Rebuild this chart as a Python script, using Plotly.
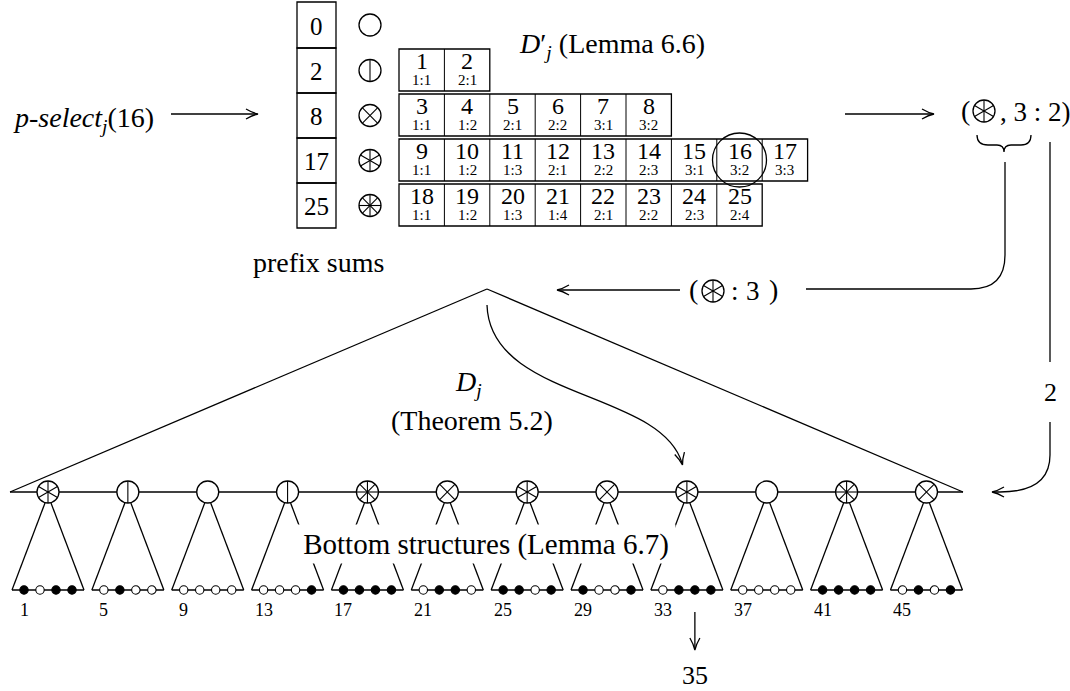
import math
import plotly.graph_objects as go

# ---------------- data ----------------
prefix_sums = [0, 2, 8, 17, 25]          # prefix-sum column
symbol_lines = [0, 1, 2, 3, 4]           # number of lines in each symbol of the column
table_labels = [
    ["1:1", "2:1"],
    ["1:1", "1:2", "2:1", "2:2", "3:1", "3:2"],
    ["1:1", "1:2", "1:3", "2:1", "2:2", "2:3", "3:1", "3:2", "3:3"],
    ["1:1", "1:2", "1:3", "1:4", "2:1", "2:2", "2:3", "2:4"],
]
selected_rank = 16
node_lines = [3, 1, 0, 1, 4, 2, 3, 2, 3, 0, 4, 2]
leaf_bits = ["1011", "0100", "0000", "0001", "1111", "0110",
             "1101", "1001", "0111", "0000", "1111", "0101"]
leaf_labels = [1, 5, 9, 13, 17, 21, 25, 29, 33, 37, 41, 45]
result_symbol = 3
result_pair = ("3", "2")
answer = 35

# ---------------- layout constants ----------------
W, H = 1070, 691
FONT = "Liberation Serif"
LW = 1.3
BLACK = "black"

fig = go.Figure()
fig.update_layout(
    width=W, height=H, margin=dict(l=0, r=0, t=0, b=0),
    paper_bgcolor="white", plot_bgcolor="white", showlegend=False,
    xaxis=dict(range=[0, W], visible=False, fixedrange=True),
    yaxis=dict(range=[H, 0], visible=False, fixedrange=True),
)

def line(x0, y0, x1, y1, w=LW):
    fig.add_shape(type="line", x0=x0, y0=y0, x1=x1, y1=y1,
                  line=dict(color=BLACK, width=w))

def path(p, w=LW):
    fig.add_shape(type="path", path=p, line=dict(color=BLACK, width=w))

def rect(x0, y0, x1, y1, w=LW):
    fig.add_shape(type="rect", x0=x0, y0=y0, x1=x1, y1=y1,
                  line=dict(color=BLACK, width=w), fillcolor="rgba(0,0,0,0)")

def circle(cx, cy, r, fill="white", w=LW):
    fig.add_shape(type="circle", x0=cx - r, y0=cy - r, x1=cx + r, y1=cy + r,
                  line=dict(color=BLACK, width=w), fillcolor=fill)

SPOKES = {0: [], 1: [90], 2: [45, 135], 3: [30, 90, 150], 4: [0, 45, 90, 135]}

def symbol(cx, cy, n, r=11):
    circle(cx, cy, r)
    for a in SPOKES[n]:
        dx, dy = r * math.cos(math.radians(a)), r * math.sin(math.radians(a))
        line(cx - dx, cy - dy, cx + dx, cy + dy, w=1.1)

def text(x, y, s, size=28, xanchor="center", **kw):
    fig.add_annotation(x=x, y=y, text=s, showarrow=False, xanchor=xanchor,
                       yanchor="middle", font=dict(family=FONT, size=size, color=BLACK), **kw)

def arrowhead(tx, ty, dx, dy, L=12, w=5):
    n = math.hypot(dx, dy)
    ux, uy = dx / n, dy / n
    px, py = -uy, ux
    b1 = (tx - L * ux + w * px, ty - L * uy + w * py)
    b2 = (tx - L * ux - w * px, ty - L * uy - w * py)
    c1 = (tx - 0.45 * L * ux + 0.22 * w * px, ty - 0.45 * L * uy + 0.22 * w * py)
    c2 = (tx - 0.45 * L * ux - 0.22 * w * px, ty - 0.45 * L * uy - 0.22 * w * py)
    path(f"M {b1[0]:.2f} {b1[1]:.2f} Q {c1[0]:.2f} {c1[1]:.2f} {tx:.2f} {ty:.2f} "
         f"Q {c2[0]:.2f} {c2[1]:.2f} {b2[0]:.2f} {b2[1]:.2f}")

# ---------------- prefix sums column + symbols ----------------
PX0, PX1 = 297, 336
row_edges = [2, 48, 93, 138, 183, 228]
SYM_X = 370
for i, v in enumerate(prefix_sums):
    y0, y1 = row_edges[i], row_edges[i + 1]
    rect(PX0, y0, PX1, y1)
    text((PX0 + PX1) / 2, (y0 + y1) / 2 + 1, str(v), size=25)
    symbol(SYM_X, (y0 + y1) / 2, symbol_lines[i])
text(318, 262, "prefix sums", size=28)

# ---------------- table D'_j ----------------
TX0, CW = 399, 45.4
sel_pos = None
for k, labels in enumerate(table_labels):
    top = row_edges[k + 1] + 1
    bot = row_edges[k + 2] - 2
    start = prefix_sums[k] + 1
    rect(TX0, top, TX0 + CW * len(labels), bot)
    for j, lab in enumerate(labels):
        x0 = TX0 + CW * j
        if j > 0:
            line(x0, top, x0, bot, w=1.0)
        num = start + j
        text(x0 + CW / 2, top + 12, str(num), size=24)
        text(x0 + CW / 2, top + 31, lab, size=15)
        if num == selected_rank:
            sel_pos = (x0 + CW / 2, (top + bot) / 2)
circle(sel_pos[0], sel_pos[1], 27, fill="rgba(0,0,0,0)")
text(612, 45, "<i>D</i>′<sub><i>j</i></sub> (Lemma 6.6)", size=28)

# ---------------- query arrow ----------------
text(83, 119, "<i>p-select</i><sub><i>j</i></sub>(16)", size=28)
line(171, 114, 257, 114)
arrowhead(258, 114, 1, 0)

# ---------------- result (symbol, 3:2) ----------------
line(845, 114, 933, 114)
arrowhead(934, 114, 1, 0)
text(965, 110, "(", size=28)
symbol(984, 111, result_symbol)
text(998, 112, f", {result_pair[0]} : {result_pair[1]})", size=27, xanchor="left")
# brace under (symbol, )
path("M 977 135 Q 977 145 988 145 L 997 145 Q 1004 145 1004 152 "
     "Q 1004 145 1011 145 L 1021 145 Q 1031 145 1031 135")
# path from brace down and to the left
path("M 1005 162 L 1005 255 Q 1005 289 971 289 L 806 289")
text(693, 289, "(", size=28)
symbol(713, 291, result_symbol)
text(735, 291, ":", size=27)
text(753, 291, result_pair[0], size=27)
text(773, 289, ")", size=28)
line(680, 290, 558, 290)
arrowhead(557, 290, -1, 0)

# right vertical path carrying the index
line(1050, 142, 1050, 362)
text(1050, 392, result_pair[1], size=26)
path("M 1050 422 L 1050 455 Q 1050 492 1000 492 L 993 492")
arrowhead(992, 492, -1, 0)

# ---------------- big triangle D_j ----------------
APEX = (487, 289)
BASE_Y = 492
line(10, BASE_Y, APEX[0], APEX[1])
line(APEX[0], APEX[1], 963, BASE_Y)
line(10, BASE_Y, 963, BASE_Y)
text(468, 383, "<i>D<sub>j</sub></i>", size=28)
text(472, 420, "(Theorem 5.2)", size=28)
path("M 487 305 C 490 400, 660 390, 682 463")
arrowhead(682.5, 465, 0.25, 1)

# ---------------- nodes, bottom structures, leaves ----------------
NX0, NDX = 48, 79.86
LEAF_Y = 590
for i, n in enumerate(node_lines):
    cx = NX0 + NDX * i
    line(cx - 3, BASE_Y + 11, cx - 36, LEAF_Y)
    line(cx + 3, BASE_Y + 11, cx + 36, LEAF_Y)
    line(cx - 36, LEAF_Y, cx + 36, LEAF_Y)
    symbol(cx, BASE_Y, n)
    for j, b in enumerate(leaf_bits[i]):
        lx = cx - 24 + 16 * j
        circle(lx, LEAF_Y, 4.2, fill="black" if b == "1" else "white", w=1.1)
    text(cx - 24, 610, str(leaf_labels[i]), size=18)

fig.add_annotation(x=486, y=544, text="Bottom structures (Lemma 6.7)", showarrow=False,
                   xanchor="center", yanchor="middle", bgcolor="white", borderpad=0,
                   width=378, height=38,
                   font=dict(family=FONT, size=29, color=BLACK))

# answer
ans_leaf = leaf_labels.index(33)
ax = NX0 + NDX * ans_leaf - 24 + 16 * (answer - leaf_labels[ans_leaf])
line(ax, 612, ax, 649)
arrowhead(ax, 650, 0, 1)
text(ax, 675, str(answer), size=26)

fig.write_html("out.html", config={"displayModeBar": False},
               post_script="document.body.style.margin='0';document.body.style.overflow='hidden';")
